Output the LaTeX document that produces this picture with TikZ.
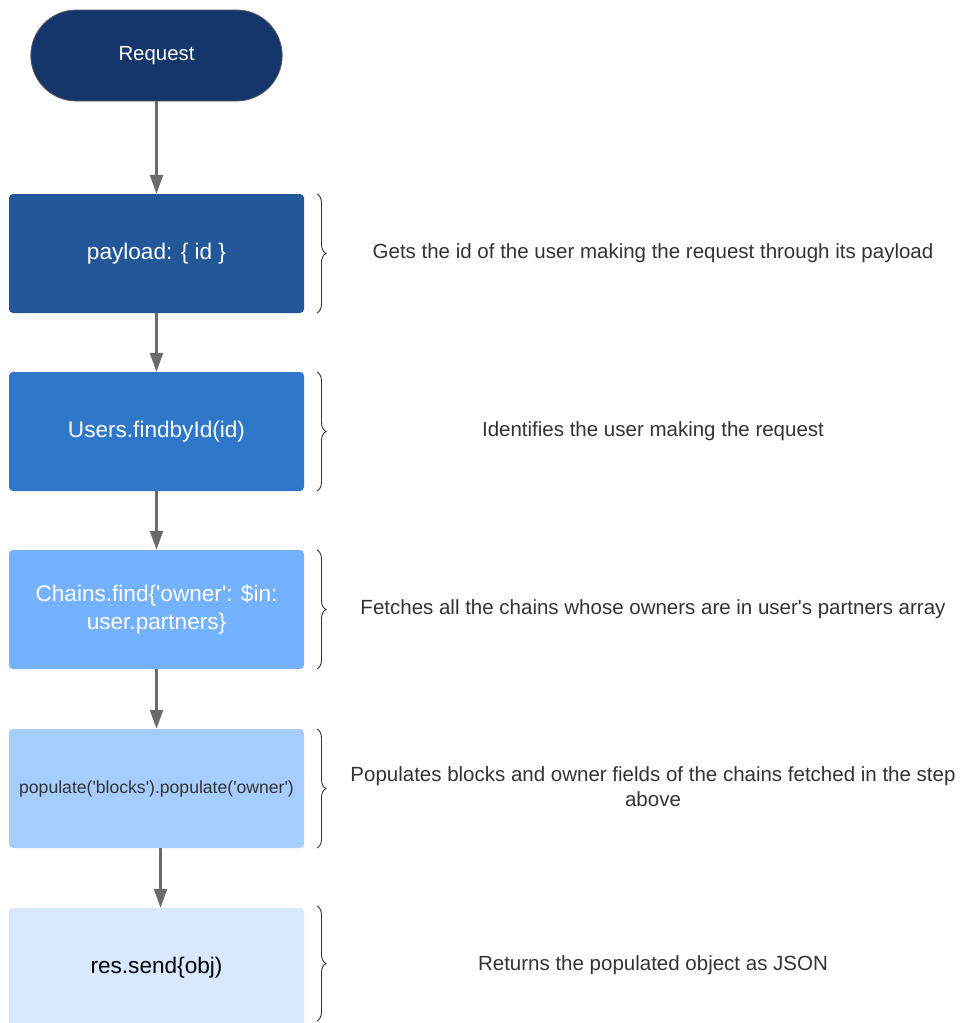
\documentclass[tikz,border=0pt]{standalone}
\usepackage{fontspec}
\setmainfont{Liberation Sans}
\usetikzlibrary{arrows.meta,decorations.pathreplacing,shapes.misc}
\definecolor{navy}{HTML}{14366B}
\definecolor{stepA}{HTML}{22579A}
\definecolor{stepB}{HTML}{2F77C9}
\definecolor{stepC}{HTML}{74B2FF}
\definecolor{stepD}{HTML}{A6CDFF}
\definecolor{stepE}{HTML}{D8E8FF}
\definecolor{flow}{HTML}{6B6B6B}
\definecolor{note}{HTML}{333333}
\newcommand{\sq}{\textquotesingle}
\begin{document}
\begin{tikzpicture}[x=1pt,y=-1pt,
  stepbox/.style={draw=none,rounded corners=4pt,minimum width=295pt,minimum height=119pt,
    inner sep=0pt,align=center,font=\fontsize{22.6}{28}\selectfont,text=white},
  flowarrow/.style={draw=flow,line width=2.5pt,-{Triangle[length=19pt,width=13pt]}},
  bracket/.style={draw=note,line width=0.9pt,decorate,decoration={brace,amplitude=9pt,raise=0pt}},
  notetext/.style={text=note,align=center,font=\fontsize{20.5}{25}\selectfont}]
\useasboundingbox (0,0) rectangle (960,1023);

% start terminal
\node[rounded rectangle,draw=note!80,line width=0.8pt,fill=navy,minimum width=258pt,minimum height=91pt,
  text=white,font=\fontsize{20.4}{24}\selectfont] (req) at (156.5,55.5) {Request};

% processing steps
\node[stepbox,fill=stepA] (s1) at (156.5,253.5) {payload: \{ id \}};
\node[stepbox,fill=stepB] (s2) at (156.5,431.5) {Users.findbyId(id)};
\node[stepbox,fill=stepC] (s3) at (156.5,609.5) {Chains.find\{\sq owner\sq: \$in:\\user.partners\}};
\node[stepbox,fill=stepD,text=note,font=\fontsize{17.6}{22}\selectfont] (s4) at (156.5,788.5) {populate(\sq blocks\sq).populate(\sq owner\sq)};
\node[stepbox,fill=stepE,text=black] (s5) at (156.5,967.5) {res.send\{obj)};

% flow arrows
\draw[flowarrow] (req.south) -- (s1.north);
\draw[flowarrow] (s1.south) -- (s2.north);
\draw[flowarrow] (s2.south) -- (s3.north);
\draw[flowarrow] (s3.south) -- (s4.north);
\draw[flowarrow] ([xshift=4pt]s4.south) -- ([xshift=4pt]s5.north);

% explanations
\node[notetext] (n1) at (653,253) {Gets the id of the user making the request through its payload};
\node[notetext] (n2) at (653,431) {Identifies the user making the request};
\node[notetext] (n3) at (653,609) {Fetches all the chains whose owners are in user\sq s partners array};
\node[notetext] (n4) at (653,787) {Populates blocks and owner fields of the chains fetched in the step\\above};
\node[notetext] (n5) at (653,965) {Returns the populated object as JSON};

% braces
\draw[bracket] (317,194) -- (317,313);
\draw[bracket] (317,372) -- (317,491);
\draw[bracket] (317,550) -- (317,669);
\draw[bracket] (317,729) -- (317,848);
\draw[bracket] (317,906) -- (317,1021);
\end{tikzpicture}
\end{document}
